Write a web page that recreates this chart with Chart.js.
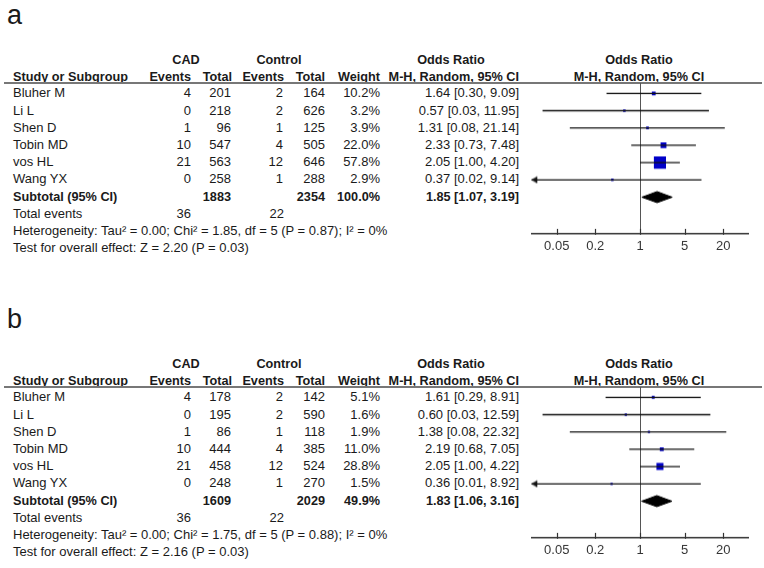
<!DOCTYPE html>
<html>
<head>
<meta charset="utf-8">
<script src="https://cdn.jsdelivr.net/npm/chart.js@4.4.1/dist/chart.umd.min.js"></script>
<style>
  body { margin: 0; background: #fff; }
  #page { position: relative; width: 764px; height: 568px; overflow: hidden;
          font-family: "Liberation Sans", Arial, sans-serif; color: #1a1a1a; }
  .t { position: absolute; white-space: nowrap; font-size: 13px; line-height: 16px; }
  .b { font-weight: bold; font-size: 12.7px; }
  .rule { position: absolute; left: 4px; width: 758px; height: 2px; background: #777; }
  .plot { position: absolute; left: 520px; width: 244px; }
</style>
</head>
<body>
<div id="page"></div>
<script>
// study names (same in both panels)
const studies = ["Bluher M", "Li L", "Shen D", "Tobin MD", "vos HL", "Wang YX"];

// panel a
const cadEventsA = [4, 0, 1, 10, 21, 0];
const cadTotalA = [201, 218, 96, 547, 563, 258];
const ctrlEventsA = [2, 2, 1, 4, 12, 1];
const ctrlTotalA = [164, 626, 125, 505, 646, 288];
const weightA = [10.2, 3.2, 3.9, 22.0, 57.8, 2.9];
const orA = [1.64, 0.57, 1.31, 2.33, 2.05, 0.37];
const loA = [0.30, 0.03, 0.08, 0.73, 1.00, 0.02];
const hiA = [9.09, 11.95, 21.14, 7.48, 4.20, 9.14];
const subA = { cad: 1883, ctrl: 2354, weight: "100.0%", or: 1.85, lo: 1.07, hi: 3.19,
  evCad: 36, evCtrl: 22,
  het: "Heterogeneity: Tau\u00b2 = 0.00; Chi\u00b2 = 1.85, df = 5 (P = 0.87); I\u00b2 = 0%",
  test: "Test for overall effect: Z = 2.20 (P = 0.03)" };

// panel b
const cadEventsB = [4, 0, 1, 10, 21, 0];
const cadTotalB = [178, 195, 86, 444, 458, 248];
const ctrlEventsB = [2, 2, 1, 4, 12, 1];
const ctrlTotalB = [142, 590, 118, 385, 524, 270];
const weightB = [5.1, 1.6, 1.9, 11.0, 28.8, 1.5];
const orB = [1.61, 0.60, 1.38, 2.19, 2.05, 0.36];
const loB = [0.29, 0.03, 0.08, 0.68, 1.00, 0.01];
const hiB = [8.91, 12.59, 22.32, 7.05, 4.22, 8.92];
const subB = { cad: 1609, ctrl: 2029, weight: "49.9%", or: 1.83, lo: 1.06, hi: 3.16,
  evCad: 36, evCtrl: 22,
  het: "Heterogeneity: Tau\u00b2 = 0.00; Chi\u00b2 = 1.75, df = 5 (P = 0.88); I\u00b2 = 0%",
  test: "Test for overall effect: Z = 2.16 (P = 0.03)" };

// axis
const xTicks = [0.05, 0.2, 1, 5, 20];
const xTickLabels = ["0.05", "0.2", "1", "5", "20"];
const xMin = 0.02, xMax = 50;

const page = document.getElementById("page");
const ROW = 17.2;

// arrow head image, tip sits on the point centre
const arrow = document.createElement("canvas");
arrow.width = 16; arrow.height = 8;
(function () {
  const c = arrow.getContext("2d");
  c.fillStyle = "#111";
  c.beginPath(); c.moveTo(8, 4); c.lineTo(14, 0.5); c.lineTo(14, 7.5); c.closePath(); c.fill();
})();

// upward tick marks on the x axis
const upTicks = {
  id: "upTicks",
  afterDraw(chart) {
    const sc = chart.scales.x, ctx = chart.ctx, yb = chart.chartArea.bottom;
    ctx.save();
    ctx.strokeStyle = "#333";
    ctx.lineWidth = 1.2;
    sc.ticks.forEach((t) => {
      const px = Math.round(sc.getPixelForValue(t.value)) + 0.5;
      ctx.beginPath(); ctx.moveTo(px, yb - 5); ctx.lineTo(px, yb + 1); ctx.stroke();
    });
    ctx.restore();
  }
};

function text(str, x, y, align, bold, size) {
  const d = document.createElement("div");
  d.className = "t" + (bold ? " b" : "");
  d.textContent = str;
  if (size) { d.style.fontSize = size + "px"; d.style.lineHeight = (size + 4) + "px"; }
  d.style.left = x + "px";
  d.style.top = y + "px";
  const tx = align === "right" ? "-100%" : align === "center" ? "-50%" : "0";
  d.style.transform = "translate(" + tx + ",-50%)";
  page.appendChild(d);
}

const fmt = (or, lo, hi) => or.toFixed(2) + " [" + lo.toFixed(2) + ", " + hi.toFixed(2) + "]";

function panel(letter, top, cadEv, cadTot, ctrlEv, ctrlTot, weight, or, lo, hi, sub) {
  const rule = top + 23;        // header rule
  const row0 = top + 33.3;      // first study row
  const axisY = top + 173;      // x axis line
  text(letter, 7, top - 45, "left", false, 27);

  text("CAD", 186, top, "center", true);
  text("Control", 279, top, "center", true);
  text("Odds Ratio", 451, top, "center", true);
  text("Odds Ratio", 639, top, "center", true);
  const h = top + 17;
  text("Study or Subgroup", 13, h, "left", true);
  text("Events", 191, h, "right", true);
  text("Total", 232, h, "right", true);
  text("Events", 284, h, "right", true);
  text("Total", 325, h, "right", true);
  text("Weight", 380, h, "right", true);
  text("M-H, Random, 95% CI", 519, h, "right", true);
  text("M-H, Random, 95% CI", 639, h, "center", true);

  const r = document.createElement("div");
  r.className = "rule";
  r.style.top = (rule - 1) + "px";
  page.appendChild(r);

  studies.forEach((s, i) => {
    const y = row0 + i * ROW;
    text(s, 13, y, "left");
    text(String(cadEv[i]), 191, y, "right");
    text(String(cadTot[i]), 231, y, "right");
    text(String(ctrlEv[i]), 283, y, "right");
    text(String(ctrlTot[i]), 325, y, "right");
    text(weight[i].toFixed(1) + "%", 380, y, "right");
    text(fmt(or[i], lo[i], hi[i]), 519, y, "right");
  });
  let y = row0 + 6 * ROW;
  text("Subtotal (95% CI)", 13, y, "left", true);
  text(String(sub.cad), 231, y, "right", true);
  text(String(sub.ctrl), 325, y, "right", true);
  text(sub.weight, 380, y, "right", true);
  text(fmt(sub.or, sub.lo, sub.hi), 519, y, "right", true);
  y += ROW;
  text("Total events", 13, y, "left");
  text(String(sub.evCad), 191, y, "right");
  text(String(sub.evCtrl), 284, y, "right");
  y += ROW;
  text(sub.het, 13, y, "left");
  y += ROW;
  text(sub.test, 13, y, "left");

  // forest plot
  const wrap = document.createElement("div");
  wrap.className = "plot";
  wrap.style.top = rule + "px";
  wrap.style.height = (axisY - rule + 25) + "px";
  const cv = document.createElement("canvas");
  wrap.appendChild(cv);
  page.appendChild(wrap);

  const datasets = [];
  studies.forEach((s, i) => {
    const left = Math.max(lo[i], xMin);
    datasets.push({
      data: [{ x: left, y: i }, { x: hi[i], y: i }],
      showLine: true,
      borderColor: "#111",
      borderWidth: 1.3,
      pointStyle: arrow,
      pointRadius: (c) => (c.dataIndex === 0 && lo[i] <= xMin ? 4 : 0)
    });
  });
  datasets.push({
    data: or.map((v, i) => ({ x: v, y: i })),
    pointStyle: "rect",
    backgroundColor: "#0000c8",
    borderWidth: 0,
    pointRadius: (c) => (2 + 0.175 * weight[c.dataIndex]) / Math.SQRT2
  });
  const dy = 0.32;
  datasets.push({
    data: [{ x: sub.lo, y: 6 }, { x: sub.or, y: 6 - dy }, { x: sub.hi, y: 6 },
           { x: sub.or, y: 6 + dy }, { x: sub.lo, y: 6 }],
    showLine: true,
    borderColor: "#000",
    borderWidth: 1,
    backgroundColor: "#000",
    fill: "shape",
    pointRadius: 0
  });

  const chart = new Chart(cv, {
    type: "scatter",
    data: { datasets },
    plugins: [upTicks],
    options: {
      responsive: true,
      maintainAspectRatio: false,
      animation: false,
      layout: { autoPadding: false, padding: { left: 11.3, right: 15.3, top: 0, bottom: 0 } },
      plugins: { legend: { display: false }, tooltip: { enabled: false } },
      scales: {
        x: {
          type: "logarithmic",
          min: xMin,
          max: xMax,
          afterBuildTicks: (sc) => { sc.ticks = xTicks.map((v) => ({ value: v })); },
          ticks: {
            autoSkip: false,
            maxRotation: 0,
            color: "#333",
            padding: 5,
            font: { family: "Liberation Sans", size: 13 },
            callback: (v) => xTickLabels[xTicks.indexOf(v)]
          },
          grid: {
            drawOnChartArea: true,
            drawTicks: false,
            color: (c) => (c.tick && c.tick.value === 1 ? "#555" : "rgba(0,0,0,0)"),
            lineWidth: 1
          },
          border: { display: true, color: "#333", width: 1.5 }
        },
        y: { type: "linear", reverse: true, min: -0.6, max: 8, display: false }
      }
    }
  });

  // fit canvas so the axis sits at axisY, then map rows to the table rows
  const axisH = chart.height - chart.chartArea.bottom;
  wrap.style.height = (axisY - rule + axisH) + "px";
  chart.resize();
  const ca = chart.chartArea;
  chart.options.scales.y.min = (rule + ca.top - row0) / ROW;
  chart.options.scales.y.max = (rule + ca.bottom - row0) / ROW;
  chart.update("none");
}

panel("a", 60, cadEventsA, cadTotalA, ctrlEventsA, ctrlTotalA, weightA, orA, loA, hiA, subA);
panel("b", 364, cadEventsB, cadTotalB, ctrlEventsB, ctrlTotalB, weightB, orB, loB, hiB, subB);
</script>
</body>
</html>
